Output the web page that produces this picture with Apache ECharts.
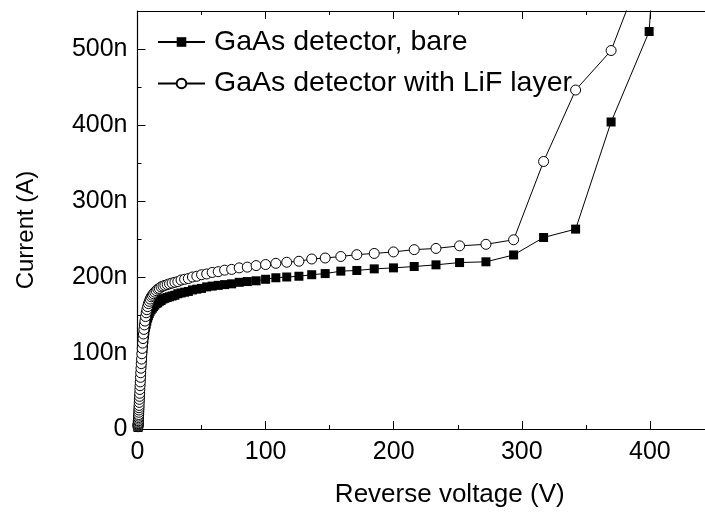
<!DOCTYPE html>
<html>
<head>
<meta charset="utf-8">
<script src="https://cdn.jsdelivr.net/npm/echarts@6/dist/echarts.min.js"></script>
<style>
  html, body { margin: 0; padding: 0; background: #fff; }
  #main { width: 705px; height: 513px; }
</style>
</head>
<body>
<div id="main"></div>
<script>
// reverse voltage (V), same points for both detectors
var voltages = [0.4, 0.43, 0.46, 0.5, 0.54, 0.58, 0.63, 0.68, 0.73, 0.79, 0.85, 0.92, 0.99, 1.07, 1.16, 1.25,
    1.35, 1.46, 1.58, 1.7, 1.84, 1.99, 2.14, 2.32, 2.5, 2.7, 2.92, 3.15, 3.4, 3.68, 3.97, 4.3, 4.6, 5.0,
    5.4, 5.8, 6.3, 6.8, 7.3, 7.9, 8.5, 9.2, 9.9, 10.7, 11.6, 12.5, 13.5, 14.6, 15.8, 17.0, 18.4, 19.9,
    21.4, 23.2, 25.0, 27.0, 29.2, 31.5, 34.0, 36.8, 39.7, 42.9, 46.3, 50.0, 54.0, 58.3, 63.0, 68.0,
    73.5, 79.4, 85.7, 92.6, 100, 108, 116.5, 126, 136, 146.5, 158.7, 171.2, 184.8, 199.8, 216, 233,
    251.4, 272, 293.6, 317, 342, 369.7, 399.4, 431];

// current in nA
var bare = [2, 3, 4, 5, 6, 7, 8, 9, 11, 12, 14, 16, 18, 21, 23, 26,
    29, 33, 36, 40, 44, 48, 53, 58, 63, 69, 75, 81, 87, 94, 100, 106, 112, 118,
    124, 129, 134, 138, 142, 146, 149, 152, 155, 157, 159, 161, 163, 165, 166, 168, 169, 171,
    172, 173, 174, 175, 176, 178, 179, 180, 181, 183, 184, 185, 187, 188, 189, 190,
    191, 193, 194, 195, 197, 199, 200, 201, 203, 204.5, 207.7, 208.6, 210.7, 212, 213.8, 216,
    219, 220, 229, 252, 263, 404, 523, 1345];

var withLiF = [3, 4, 5, 6, 7, 8, 10, 11, 13, 15, 17, 19, 22, 25, 28, 31,
    35, 39, 43, 47, 52, 57, 62, 68, 74, 80, 86, 92, 99, 106, 113, 119, 125, 131,
    137, 142, 148, 153, 157, 161, 165, 168, 171, 174, 176, 178, 180, 182, 184, 185, 187, 188,
    189, 190, 191, 192, 193, 194, 196, 197, 198, 200, 201, 203, 204, 206, 207, 209,
    210, 212, 213, 215, 216.4, 218, 219.4, 220.7, 223.7, 225, 227, 229.4, 231, 233, 236, 237.6,
    241, 243, 249, 352, 446, 498, 628, 900];

var seriesNames = ['GaAs detector, bare', 'GaAs detector with LiF layer'];

function pairs(xs, ys) {
    var out = [];
    for (var i = 0; i < xs.length; i++) out.push([xs[i], ys[i]]);
    return out;
}

var font = 'Liberation Sans, Arial, sans-serif';
var chart = echarts.init(document.getElementById('main'));

var option = {
    animation: false,
    backgroundColor: '#fff',
    grid: { left: 137.5, right: 0, top: 11, bottom: 79.5 },
    legend: {
        orient: 'vertical',
        left: 152,
        top: 22.5,
        itemWidth: 47,
        itemHeight: 12,
        itemGap: 12.5,
        textStyle: { fontFamily: font, fontSize: 28.5, color: '#000', padding: [0, 0, 0, 4] },
        data: seriesNames
    },
    xAxis: [{
        type: 'value', min: 0, max: 443, interval: 100,
        name: 'Reverse voltage (V)', nameLocation: 'middle', nameGap: 53,
        nameTextStyle: { fontFamily: font, fontSize: 26, color: '#000', padding: [0, 0, 0, 57] },
        axisLine: { onZero: false, lineStyle: { color: '#000', width: 1.2 } },
        axisTick: { inside: true, length: 8, lineStyle: { color: '#000' } },
        minorTick: { show: true, splitNumber: 2, length: 4, lineStyle: { color: '#000' } },
        axisLabel: { fontFamily: font, fontSize: 25, color: '#000', margin: 11, showMaxLabel: false,
            formatter: function (v) { return v % 100 === 0 ? String(v) : ''; } },
        splitLine: { show: false }
    }, {
        type: 'value', position: 'top', min: 0, max: 443, interval: 100,
        axisLine: { onZero: false, lineStyle: { color: '#000', width: 1.2 } },
        axisTick: { inside: true, length: 8, lineStyle: { color: '#000' } },
        minorTick: { show: true, splitNumber: 2, length: 4, lineStyle: { color: '#000' } },
        axisLabel: { show: false },
        splitLine: { show: false }
    }],
    yAxis: {
        type: 'value', min: 0, max: 550, interval: 100,
        name: 'Current (A)', nameLocation: 'middle', nameGap: 99,
        nameTextStyle: { fontFamily: font, fontSize: 24, color: '#000', padding: [0, 20, 0, 0] },
        axisLine: { onZero: false, lineStyle: { color: '#000', width: 1.2 } },
        axisTick: { inside: true, length: 8, lineStyle: { color: '#000' } },
        minorTick: { show: true, splitNumber: 2, length: 4, lineStyle: { color: '#000' } },
        axisLabel: { fontFamily: font, fontSize: 25, color: '#000', margin: 10, showMaxLabel: false,
            formatter: function (v) { return v === 0 ? '0' : v + 'n'; } },
        splitLine: { show: false }
    },
    series: [{
        name: seriesNames[0],
        type: 'line',
        data: pairs(voltages, bare),
        symbol: 'rect',
        symbolSize: 9,
        showAllSymbol: true,
        lineStyle: { color: '#000', width: 1 },
        itemStyle: { color: '#000', borderColor: '#000', borderWidth: 0 }
    }, {
        name: seriesNames[1],
        type: 'line',
        data: pairs(voltages, withLiF),
        symbol: 'circle',
        symbolSize: 10,
        showAllSymbol: true,
        lineStyle: { color: '#000', width: 1 },
        itemStyle: { color: '#fff', borderColor: '#000', borderWidth: 1 }
    }]
};

chart.setOption(option);
</script>
</body>
</html>
